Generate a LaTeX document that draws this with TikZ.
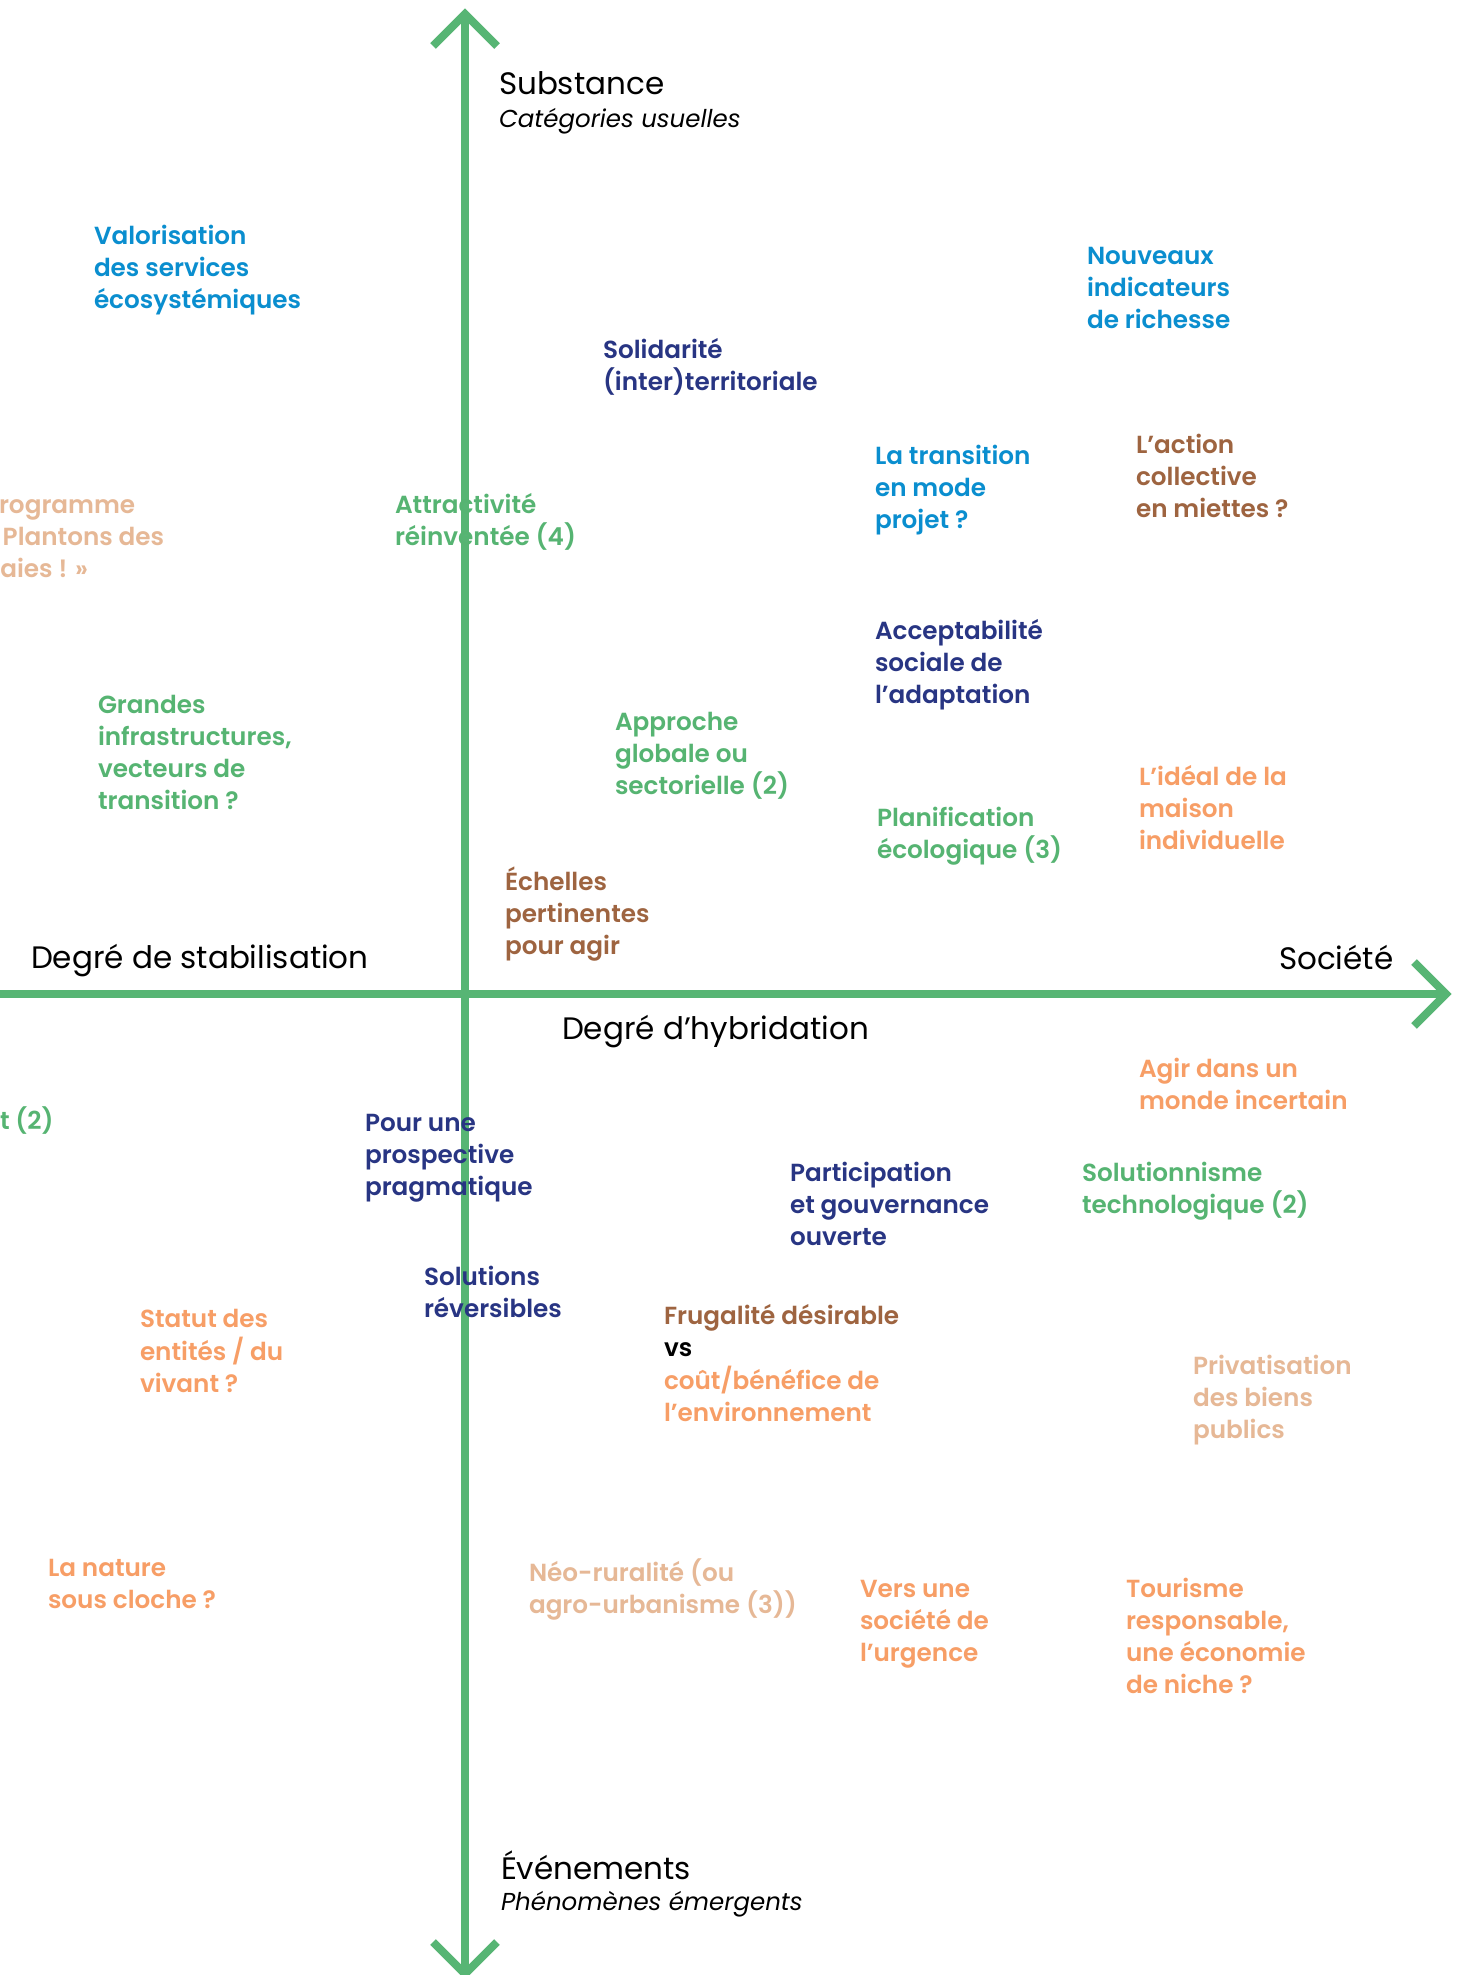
\documentclass[tikz,border=0pt]{standalone}
\usepackage{fontspec}
\setmainfont{Poppins}
\newfontfamily\medfont{Poppins SemiBold}
\definecolor{cblue}{HTML}{0A8ECF}
\definecolor{cnavy}{HTML}{283583}
\definecolor{cgreen}{HTML}{56B472}
\definecolor{cbrown}{HTML}{9E6440}
\definecolor{corange}{HTML}{F79E66}
\definecolor{ctan}{HTML}{E6B896}
\definecolor{caxis}{HTML}{57B574}
\newcommand{\ml}[1]{\begin{tabular}[t]{@{}l@{}}#1\end{tabular}}
\tikzset{
  axisline/.style={draw=caxis, line width=8pt, line cap=butt, line join=miter},
  lab/.style={anchor=base west, inner sep=0pt, outer sep=0pt, font=\medfont\fontsize{24.7}{32}\selectfont},
  axlab/.style={anchor=base west, inner sep=0pt, outer sep=0pt, text=black, font=\fontsize{31}{36}\selectfont},
  axsub/.style={anchor=base west, inner sep=0pt, outer sep=0pt, text=black, font=\itshape\fontsize{24.5}{30}\selectfont},
}
\begin{document}
\begin{tikzpicture}[x=1pt,y=-1pt]
\useasboundingbox (0,0) rectangle (1461,1975);
\clip (0,0) rectangle (1461,1975);
\fill[white] (0,0) rectangle (1461,1975);
% axes
\coordinate (top) at (465,14);
\coordinate (bot) at (465,1974);
\coordinate (left) at (0,994);
\coordinate (right) at (1446,994);
\draw[axisline] (bot) -- (top);
\draw[axisline] (left) -- (right);
\draw[axisline] (433,46) -- (top) -- (497,46);
\draw[axisline] (433,1942) -- (bot) -- (497,1942);
\draw[axisline] (1414,962) -- (right) -- (1414,1026);
% axis labels
\node[axlab] (subst) at (499,95) {Substance};
\node[axsub] (categ) at (499,127) {Catégories usuelles};
\node[axlab] (even) at (501,1879) {Événements};
\node[axsub] (phen) at (501,1910) {Phénomènes émergents};
\node[axlab] (stab) at (31,968) {Degré de stabilisation};
\node[axlab] (soc) at (1279,969) {Société};
\node[axlab] (hyb) at (562,1039) {Degré d’hybridation};
% labels
\node[lab,text=cblue] (valo) at (94,244) {\ml{Valorisation\\des services\\écosystémiques}};
\node[lab,text=cblue] (nouv) at (1087,264) {\ml{Nouveaux\\indicateurs\\de richesse}};
\node[lab,text=cnavy] (soli) at (603,358) {\ml{Solidarité\\(inter)territoriale}};
\node[lab,text=cblue] (trans) at (875,464) {\ml{La transition\\en mode\\projet ?}};
\node[lab,text=cbrown] (action) at (1136,453) {\ml{L’action\\collective\\en miettes ?}};
\node[lab,text=ctan] (prog) at (-16,513) {\ml{Programme\\« Plantons des\\haies ! »}};
\node[lab,text=cgreen] (attr) at (395,513) {\ml{Attractivité\\réinventée (4)}};
\node[lab,text=cgreen] (grand) at (98,713) {\ml{Grandes\\infrastructures,\\vecteurs de\\transition ?}};
\node[lab,text=cgreen] (appr) at (615,730) {\ml{Approche\\globale ou\\sectorielle (2)}};
\node[lab,text=cnavy] (accept) at (875,639) {\ml{Acceptabilité\\sociale de\\l’adaptation}};
\node[lab,text=corange] (ideal) at (1139,785) {\ml{L’idéal de la\\maison\\individuelle}};
\node[lab,text=cgreen] (plan) at (877,826) {\ml{Planification\\écologique (3)}};
\node[lab,text=cbrown] (echel) at (505,890) {\ml{Échelles\\pertinentes\\pour agir}};
\node[lab,text=corange] (agir) at (1139,1077) {\ml{Agir dans un\\monde incertain}};
\node[lab,text=cgreen] (tdeux) at (0,1129) {t (2)};
\node[lab,text=cnavy] (prosp) at (365,1131) {\ml{Pour une\\prospective\\pragmatique}};
\node[lab,text=cnavy] (partic) at (790,1181) {\ml{Participation\\et gouvernance\\ouverte}};
\node[lab,text=cgreen] (solut) at (1082,1181) {\ml{Solutionnisme\\technologique (2)}};
\node[lab,text=cnavy] (rever) at (424,1285) {\ml{Solutions\\réversibles}};
\node[lab,text=corange] (statut) at (140,1327) {\ml{Statut des\\entités / du\\vivant ?}};
\node[lab] (frug) at (664,1324) {\ml{\textcolor{cbrown}{Frugalité désirable}\\\textcolor{black}{vs}\\\textcolor{corange}{coût/bénéfice de}\\\textcolor{corange}{l’environnement}}};
\node[lab,text=ctan] (priv) at (1193,1374) {\ml{Privatisation\\des biens\\publics}};
\node[lab,text=corange] (natur) at (48,1576) {\ml{La nature\\sous cloche ?}};
\node[lab,text=ctan] (neo) at (529,1581) {\ml{Néo-ruralité (ou\\agro-urbanisme (3))}};
\node[lab,text=corange] (urg) at (860,1597) {\ml{Vers une\\société de\\l’urgence}};
\node[lab,text=corange] (tour) at (1126,1597) {\ml{Tourisme\\responsable,\\une économie\\de niche ?}};
\end{tikzpicture}
\end{document}
